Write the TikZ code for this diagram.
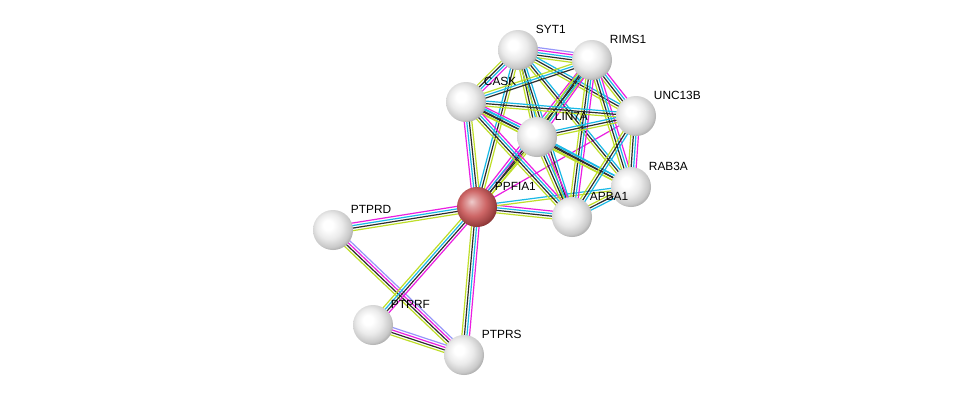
\documentclass[tikz,border=0pt]{standalone}
\usepackage{fontspec}
\setmainfont{Liberation Sans}
\usetikzlibrary{calc}

\definecolor{tm}{RGB}{190,222,40}
\definecolor{ko}{RGB}{45,45,45}
\definecolor{db}{RGB}{25,185,230}
\definecolor{ex}{RGB}{235,30,225}
\definecolor{ho}{RGB}{150,150,250}
\definecolor{rdec}{RGB}{200,85,85}
\definecolor{rdrob}{RGB}{120,40,40}
\pgfdeclarelayer{ozadje}
\pgfsetlayers{ozadje,main}

\pgfdeclareradialshading{krogla}{\pgfpoint{-7bp}{7bp}}{color(0bp)=(white); color(6bp)=(white); color(16bp)=(gray!16); color(25bp)=(gray!42); color(31bp)=(gray!80); color(50bp)=(gray!80)}
\pgfdeclareradialshading{kroglard}{\pgfpoint{-7bp}{7bp}}{color(0bp)=(rdec!30!white); color(6bp)=(rdec!55!white); color(16bp)=(rdec!90!white); color(25bp)=(rdec!80!black); color(31bp)=(rdrob); color(50bp)=(rdrob)}

\tikzset{
  prot/.style={circle, minimum size=30pt, inner sep=0pt, shading=krogla},
  lbl/.style={font=\fontsize{8.9pt}{10pt}\selectfont, inner sep=0.5pt, label distance=0pt, xshift=2pt, yshift=1.2pt}
}

% parallel lines of one link
\newcommand{\povezava}[3]{%
  \foreach \c [count=\k] in {#3} {\xdef\nbarv{\k}}%
  \foreach \c [count=\k] in {#3} {
    \pgfmathsetmacro{\odmik}{(\k-(\nbarv+1)/2)*1.9}
    \draw[color=\c, line width=0.9pt] ($(#1.center)!\odmik pt!90:(#2.center)$) -- ($(#2.center)!\odmik pt!-90:(#1.center)$);
  }}

\begin{document}
\begin{tikzpicture}[x=0.75pt,y=-0.75pt]
\useasboundingbox (0,0) rectangle (976,401);
\node[prot, label={[lbl]north east:SYT1}] (syt1) at (518,50) {};
\node[prot, label={[lbl]north east:RIMS1}] (rims1) at (592,60) {};
\node[prot, label={[lbl]north east:CASK}] (cask) at (466,102) {};
\node[prot, label={[lbl]north east:UNC13B}] (unc13b) at (636,116) {};
\node[prot, label={[lbl]north east:LIN7A}] (lin7a) at (537,137) {};
\node[prot, label={[lbl]north east:RAB3A}] (rab3a) at (631,187) {};
\node[prot, shading=kroglard, label={[lbl]north east:PPFIA1}] (ppfia1) at (477,207) {};
\node[prot, label={[lbl]north east:APBA1}] (apba1) at (572,217) {};
\node[prot, label={[lbl]north east:PTPRD}] (ptprd) at (333,230) {};
\node[prot, label={[lbl]north east:PTPRF}] (ptprf) at (373,325) {};
\node[prot, label={[lbl]north east:PTPRS}] (ptprs) at (464,355) {};

\begin{pgfonlayer}{ozadje}
\fill[white] (0,0) rectangle (976,401);
\povezava{ptprd}{ppfia1}{tm,ko,db,ex}
\povezava{ptprd}{ptprs}{tm,ko,ex,ho}
\povezava{ppfia1}{ptprf}{tm,db,ko,ex}
\povezava{ppfia1}{ptprs}{tm,ko,db,ex}
\povezava{ptprf}{ptprs}{tm,ko,ex,ho}
\povezava{ppfia1}{cask}{tm,ko,db,ex}
\povezava{ppfia1}{syt1}{tm,ko,db}
\povezava{ppfia1}{lin7a}{tm,ko,ex}
\povezava{ppfia1}{rims1}{tm,ko,db,ex}
\povezava{ppfia1}{apba1}{tm,ko,db,ex}
\povezava{ppfia1}{rab3a}{tm,db}
\povezava{ppfia1}{unc13b}{ex}
\povezava{syt1}{rims1}{tm,ko,db,ex,ho}
\povezava{syt1}{cask}{tm,ko,db,ex}
\povezava{syt1}{unc13b}{tm,ko,db}
\povezava{syt1}{lin7a}{tm,ko,db}
\povezava{syt1}{rab3a}{tm,ko,db}
\povezava{syt1}{apba1}{tm,ko,db}
\povezava{rims1}{cask}{tm,db,ko}
\povezava{rims1}{unc13b}{tm,ko,db,ex}
\povezava{rims1}{lin7a}{tm,ko,db,ex}
\povezava{rims1}{rab3a}{tm,ko,db,ex}
\povezava{rims1}{apba1}{tm,ko,db,ex}
\povezava{cask}{lin7a}{tm,ko,db,ex}
\povezava{cask}{unc13b}{tm,ko,db}
\povezava{cask}{apba1}{tm,ko,db,ex}
\povezava{cask}{rab3a}{tm,ko,db}
\povezava{lin7a}{unc13b}{tm,ko,db}
\povezava{lin7a}{apba1}{tm,ko,db,ex}
\povezava{lin7a}{rab3a}{tm,ko,db}
\povezava{unc13b}{rab3a}{tm,ko,db,ex}
\povezava{unc13b}{apba1}{tm,ko,db}
\povezava{rab3a}{apba1}{tm,ko,db}
\end{pgfonlayer}
\end{tikzpicture}
\end{document}
